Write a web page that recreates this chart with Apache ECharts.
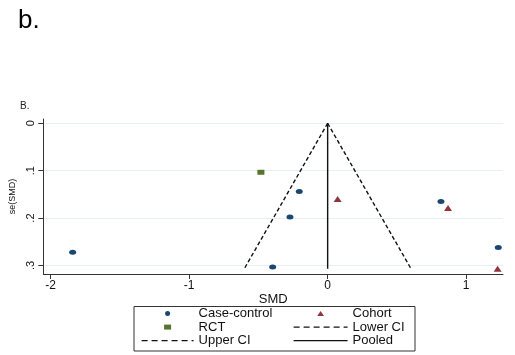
<!DOCTYPE html>
<html>
<head>
<meta charset="utf-8">
<script src="https://cdn.jsdelivr.net/npm/echarts@6/dist/echarts.min.js"></script>
<style>
  html, body { margin: 0; padding: 0; background: #fff; }
  #chart { width: 515px; height: 355px; }
</style>
</head>
<body>
<div id="chart"></div>
<script>
// ---- data ----
var caseControlSMD = [-1.841, -0.205, -0.272, -0.397, 0.818, 1.232];
var caseControlSE  = [0.272, 0.144, 0.198, 0.303, 0.165, 0.262];
var cohortSMD = [0.072, 0.869, 1.227];
var cohortSE  = [0.160, 0.179, 0.307];
var rctSMD = [-0.482];
var rctSE  = [0.1034];
var pooledSMD = 0;
var ciSE    = [0, 0.307];
var lowerCI = [0, -0.602];
var upperCI = [0, 0.602];
var xTickValues = [-2, -1, 0, 1];
var xTickLabels = ['-2', '-1', '0', '1'];
var yTickValues = [0, 0.1, 0.2, 0.3];
var yTickLabels = ['0', '.1', '.2', '.3'];
var seriesNames = ['Case-control', 'Cohort', 'RCT', 'Lower CI', 'Upper CI', 'Pooled'];

function pairs(xs, ys) { return xs.map(function (x, i) { return [x, ys[i]]; }); }

var FONT = 'Arial, "Liberation Sans", sans-serif';
var ellipse = 'path://M0,5a5,5 0 1,0 10,0a5,5 0 1,0 -10,0';
var triPath = 'path://M0,6L4,0L8,6Z';
var sqPath = 'path://M0,0H7V5H0Z';
var hiddenSym = { color: 'rgba(0,0,0,0)', borderWidth: 0, opacity: 0 };
var legendDash = { type: [6, 4], width: 1.2 };

var chart = echarts.init(document.getElementById('chart'), null, { renderer: 'canvas' });
chart.setOption({
  animation: false,
  backgroundColor: '#ffffff',
  grid: { left: 43.3, right: 12, top: 119, bottom: 81, outerBoundsMode: 'none' },
  xAxis: {
    type: 'value', min: -2.053, max: 1.266,
    name: 'SMD', nameLocation: 'middle', nameGap: 13,
    nameTextStyle: { fontFamily: FONT, fontSize: 13, color: '#111' },
    axisLine: { onZero: false, lineStyle: { color: '#333', width: 1 } },
    axisTick: { show: true, length: 5, customValues: xTickValues, lineStyle: { color: '#333' } },
    axisLabel: { customValues: xTickValues, margin: 6, fontFamily: FONT, fontSize: 12, color: '#111',
      formatter: function (v) { var i = xTickValues.indexOf(v); return i >= 0 ? xTickLabels[i] : ''; } },
    splitLine: { show: false }
  },
  yAxis: {
    type: 'value', inverse: true, min: -0.009, max: 0.318,
    name: 'se(SMD)', nameLocation: 'middle', nameGap: 22, nameRotate: 90,
    nameTextStyle: { fontFamily: FONT, fontSize: 9, color: '#111' },
    axisLine: { show: true, onZero: false, lineStyle: { color: '#333', width: 1 } },
    axisTick: { show: true, length: 5, customValues: yTickValues, lineStyle: { color: '#333' } },
    axisLabel: { customValues: yTickValues, rotate: 90, margin: 7, fontFamily: FONT, fontSize: 11, color: '#111',
      formatter: function (v) {
        for (var i = 0; i < yTickValues.length; i++) { if (Math.abs(yTickValues[i] - v) < 1e-9) return yTickLabels[i]; }
        return '';
      } },
    splitLine: { show: true, customValues: yTickValues, lineStyle: { color: '#e6eff2', width: 1 } }
  },
  legend: [
    {
      left: 141, top: 307, padding: 0, orient: 'vertical', itemGap: 0.6,
      itemWidth: 52, itemHeight: 5,
      textStyle: { fontFamily: FONT, fontSize: 13, color: '#111', lineHeight: 13 },
      data: [
        { name: seriesNames[0], icon: ellipse },
        { name: seriesNames[2], icon: sqPath },
        { name: seriesNames[4], itemStyle: hiddenSym, lineStyle: legendDash }
      ]
    },
    {
      left: 293, top: 307, padding: 0, orient: 'vertical', itemGap: 0.6,
      itemWidth: 54, itemHeight: 5,
      textStyle: { fontFamily: FONT, fontSize: 13, color: '#111', lineHeight: 13 },
      data: [
        { name: seriesNames[1], icon: triPath },
        { name: seriesNames[3], itemStyle: hiddenSym, lineStyle: legendDash },
        { name: seriesNames[5], itemStyle: hiddenSym, lineStyle: { width: 1.2 } }
      ]
    }
  ],
  graphic: [
    { type: 'text', left: 18, top: 8, style: { text: 'b.', font: '26px ' + FONT, fill: '#000' } },
    { type: 'text', left: 20, top: 101, style: { text: 'B.', font: '10px ' + FONT, fill: '#222' } },
    { type: 'rect', shape: { x: 134, y: 306.5, width: 281, height: 44.5 },
      style: { fill: 'none', stroke: '#333', lineWidth: 1 } }
  ],
  series: [
    { name: seriesNames[3], type: 'line', symbol: 'none', showSymbol: false, z: 2,
      itemStyle: { color: '#111' },
      lineStyle: { color: '#111', width: 1.4, type: [4, 2.5] },
      data: pairs(lowerCI, ciSE) },
    { name: seriesNames[4], type: 'line', symbol: 'none', showSymbol: false, z: 2,
      itemStyle: { color: '#111' },
      lineStyle: { color: '#111', width: 1.4, type: [4, 2.5] },
      data: pairs(upperCI, ciSE) },
    { name: seriesNames[5], type: 'line', symbol: 'none', showSymbol: false, z: 2,
      itemStyle: { color: '#111' },
      lineStyle: { color: '#111', width: 1.4, type: 'solid' },
      data: pairs([pooledSMD, pooledSMD], ciSE) },
    { name: seriesNames[0], type: 'scatter', symbol: ellipse, symbolSize: [7, 5], z: 3,
      itemStyle: { color: '#1a476f', opacity: 1 },
      data: pairs(caseControlSMD, caseControlSE) },
    { name: seriesNames[1], type: 'scatter', symbol: 'triangle', symbolSize: [8, 6], z: 3,
      itemStyle: { color: '#90353b', opacity: 1 },
      data: pairs(cohortSMD, cohortSE) },
    { name: seriesNames[2], type: 'scatter', symbol: 'rect', symbolSize: [7, 5], z: 3,
      itemStyle: { color: '#55752f', opacity: 1 },
      data: pairs(rctSMD, rctSE) }
  ]
});
</script>
</body>
</html>
